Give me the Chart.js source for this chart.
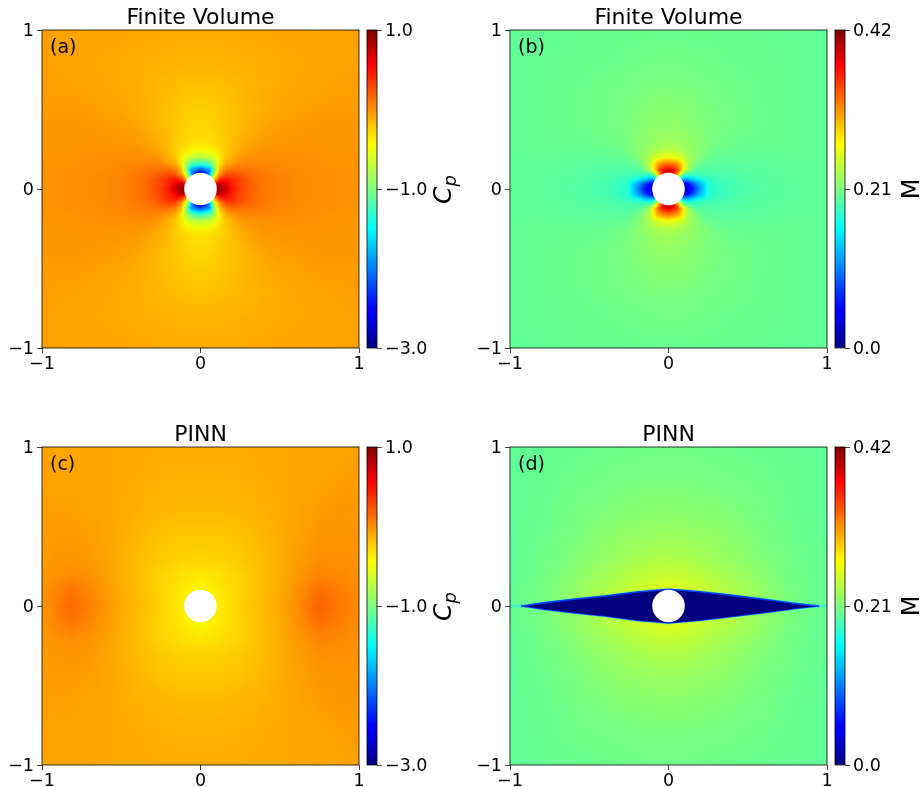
<!DOCTYPE html>
<html><head><meta charset="utf-8">
<style>html,body{margin:0;padding:0;background:#fff;overflow:hidden;width:920px;height:787px}
canvas{position:absolute;display:block}</style>
<script src="https://cdn.jsdelivr.net/npm/chart.js@4"></script>
</head><body>
<script>
const TITLE_FV='Finite Volume', TITLE_PINN='PINN';
const PANEL_TICKS=[-1,0,1];
const CP_TICKS=[-3,-1,1], CP_TICK_LABELS=['\u22123.0','\u22121.0','1.0'];
const M_TICKS=[0,0.21,0.42], M_TICK_LABELS=['0.0','0.21','0.42'];
const CYLINDER=[{x:0,y:0}];

// Quadrant read-offs for the finite volume fields (x>=0, y>=0)
const FV_X=[0,.03,.06,.09,.12,.16,.2,.25,.3,.4,.5,.65,.8,1];
const FV_Y=[0,.03,.06,.09,.12,.16,.2,.25,.3,.4,.5,.65,.8,1];
const FV_CP=[
[1,1,1,.98,.9,.72,.56,.38,.26,.13,.08,.05,.03,.02],
[-3,-1,.2,.65,.8,.65,.5,.35,.25,.13,.08,.05,.03,.02],
[-3,-2.2,-1,-.1,.45,.55,.47,.35,.24,.13,.08,.05,.03,.02],
[-3,-2.6,-1.75,-.5,0,.32,.34,.28,.2,.12,.08,.05,.03,.02],
[-2.2,-2,-1.9,-.9,-.15,.12,.18,.17,.15,.1,.07,.04,.03,.02],
[-1.35,-1.3,-1.15,-.75,-.35,-.1,0,.06,.08,.07,.06,.03,.02,.01],
[-.7,-.68,-.62,-.52,-.35,-.2,-.1,-.02,.02,.04,.04,.03,.02,.01],
[-.4,-.39,-.37,-.34,-.28,-.22,-.15,-.08,-.03,.01,.02,.02,.01,0],
[-.3,-.3,-.29,-.27,-.24,-.21,-.17,-.11,-.07,-.02,0,.01,.01,0],
[-.26,-.26,-.25,-.24,-.22,-.2,-.17,-.14,-.11,-.06,-.03,-.01,0,0],
[-.23,-.23,-.22,-.22,-.2,-.19,-.17,-.15,-.13,-.09,-.06,-.03,-.02,-.02],
[-.18,-.18,-.18,-.17,-.17,-.16,-.15,-.14,-.12,-.1,-.08,-.06,-.04,-.03],
[-.12,-.12,-.12,-.12,-.12,-.11,-.11,-.1,-.1,-.09,-.08,-.07,-.05,-.04],
[-.08,-.08,-.08,-.08,-.08,-.08,-.08,-.08,-.07,-.07,-.06,-.06,-.05,-.04]];
const FV_M=[
[0,0,0,.01,.03,.07,.118,.16,.172,.182,.188,.192,.195,.196],
[.39,.21,.1,.03,.05,.09,.125,.162,.173,.183,.188,.192,.195,.196],
[.39,.34,.21,.12,.12,.14,.155,.17,.177,.185,.19,.193,.195,.196],
[.4,.39,.3,.2,.175,.175,.18,.183,.185,.188,.19,.194,.196,.196],
[.385,.38,.35,.28,.235,.195,.19,.188,.188,.19,.192,.194,.196,.196],
[.33,.325,.31,.28,.24,.218,.2,.195,.193,.193,.194,.195,.196,.196],
[.27,.265,.26,.25,.235,.222,.212,.2,.197,.196,.196,.196,.197,.196],
[.238,.237,.234,.23,.225,.22,.214,.208,.203,.199,.198,.198,.198,.196],
[.228,.228,.226,.224,.221,.218,.215,.21,.206,.202,.2,.199,.198,.196],
[.22,.22,.22,.218,.217,.215,.213,.21,.208,.205,.203,.2,.198,.196],
[.216,.216,.216,.215,.214,.213,.211,.209,.207,.205,.203,.2,.198,.196],
[.21,.21,.21,.21,.209,.208,.207,.206,.205,.204,.202,.2,.198,.196],
[.205,.205,.205,.205,.204,.204,.203,.203,.202,.201,.2,.199,.198,.196],
[.2,.2,.2,.2,.2,.2,.2,.2,.2,.199,.199,.198,.197,.196]];

// PINN pressure: full width, upper half
const PINN_CP_X=[-1,-.9,-.82,-.7,-.55,-.4,-.25,-.12,0,.12,.25,.4,.55,.75,.9,1];
const PINN_CP_Y=[0,.1,.2,.3,.45,.6,.8,1];
const PINN_CP=[
[0,.12,.2,.1,-.04,-.14,-.24,-.36,-.44,-.36,-.24,-.14,-.03,.22,.12,.04],
[0,.08,.14,.07,-.05,-.15,-.25,-.35,-.42,-.35,-.25,-.15,-.04,.17,.1,.04],
[-.01,.03,.05,.02,-.06,-.16,-.25,-.31,-.34,-.31,-.25,-.16,-.05,.08,.06,.03],
[-.02,0,.01,-.01,-.07,-.15,-.21,-.24,-.25,-.24,-.21,-.15,-.06,.03,.03,.02],
[-.03,-.02,-.02,-.03,-.07,-.13,-.18,-.2,-.2,-.2,-.18,-.13,-.07,0,.01,.01],
[-.04,-.03,-.03,-.05,-.07,-.1,-.13,-.15,-.15,-.15,-.13,-.1,-.07,-.02,0,0],
[-.05,-.05,-.05,-.06,-.07,-.08,-.1,-.11,-.11,-.11,-.1,-.08,-.07,-.05,-.03,-.02],
[-.06,-.06,-.06,-.06,-.07,-.07,-.08,-.08,-.08,-.08,-.08,-.07,-.07,-.06,-.05,-.04]];

// PINN Mach: quadrant
const PINN_M_X=[0,.1,.2,.3,.45,.6,.8,1];
const PINN_M_Y=[0,.05,.1,.14,.2,.3,.45,.6,.8,1];
const PINN_M=[
[.26,.26,.255,.25,.235,.222,.206,.198],
[.26,.26,.255,.25,.235,.222,.206,.198],
[.262,.258,.25,.243,.232,.22,.206,.198],
[.258,.254,.247,.24,.23,.219,.205,.198],
[.248,.246,.241,.235,.226,.216,.204,.197],
[.236,.235,.231,.227,.22,.212,.203,.197],
[.225,.224,.222,.22,.215,.208,.202,.196],
[.217,.217,.215,.214,.21,.206,.2,.196],
[.209,.209,.208,.207,.205,.203,.199,.196],
[.204,.204,.203,.202,.201,.2,.198,.196]];

// The slow wake in panel (d)
const WAKE_X=[-1,-.93,-.9,-.8,-.6,-.4,-.2,0,.2,.4,.6,.8,.9,.95,1];
const WAKE_UP=[0,0,.003,.018,.042,.062,.088,.105,.09,.067,.042,.016,.004,0,0];
const WAKE_LO=[0,0,-.003,-.018,-.042,-.063,-.09,-.107,-.09,-.066,-.042,-.016,-.004,0,0];

const JET_STOPS=[[0,'#00007f'],[.11,'#0000ff'],[.125,'#0000ff'],[.375,'#00ffff'],[.5,'#7fff7f'],[.64,'#ffff00'],[.66,'#ffee00'],[.89,'#ff0000'],[.91,'#e80000'],[1,'#7f0000']];

function jet(t){t=Math.max(0,Math.min(1,t));
  const seg=(p)=>{for(let i=1;i<p.length;i++){if(t<=p[i][0]){const a=p[i-1],b=p[i];return a[1]+(b[1]-a[1])*(t-a[0])/(b[0]-a[0]);}}return p[p.length-1][1];};
  return [seg([[0,0],[.35,0],[.66,1],[.89,1],[1,.5]]),seg([[0,0],[.125,0],[.375,1],[.64,1],[.91,0],[1,0]]),seg([[0,.5],[.11,1],[.34,1],[.65,0],[1,0]])].map(c=>c*255);
}
function mirrorAxis(a){return a.slice(1).map(v=>-v).reverse().concat(a);}
function mirrorRow(r){return r.slice(1).reverse().concat(r);}
function cells(xs,ys,rows){const out=[];ys.forEach((y,j)=>xs.forEach((x,i)=>out.push({x,y,v:rows[j][i]})));return out;}
function fieldData(xs,ys,rows,mx){
  const X=mx?mirrorAxis(xs):xs, Y=mirrorAxis(ys);
  const R1=mx?rows.map(mirrorRow):rows;
  const R=R1.slice(1).reverse().concat(R1);
  return {X,Y,R,points:cells(X,Y,R)};
}
function locate(a,v){let i=0;while(i<a.length-2&&v>a[i+1])i++;const f=(v-a[i])/(a[i+1]-a[i]);return [i,Math.max(0,Math.min(1,f))];}

const fieldPlugin={id:'field',beforeDatasetsDraw(chart){
  const ds=chart.data.datasets.find(d=>d.grid); if(!ds)return;
  const {X,Y,R,vmin,vmax}=ds.grid, a=chart.chartArea;
  const L=Math.round(a.left),T=Math.round(a.top),W=Math.round(a.right-a.left),H=Math.round(a.bottom-a.top);
  const off=document.createElement('canvas');off.width=W;off.height=H;
  const c=off.getContext('2d'),img=c.createImageData(W,H);
  const cx=[];for(let i=0;i<W;i++)cx.push(locate(X,chart.scales.x.getValueForPixel(L+i+.5)));
  for(let j=0;j<H;j++){
    const [jj,fy]=locate(Y,chart.scales.y.getValueForPixel(T+j+.5));
    for(let i=0;i<W;i++){
      const [ii,fx]=cx[i];
      const v=(R[jj][ii]*(1-fx)+R[jj][ii+1]*fx)*(1-fy)+(R[jj+1][ii]*(1-fx)+R[jj+1][ii+1]*fx)*fy;
      const col=jet((v-vmin)/(vmax-vmin)),k=(j*W+i)*4;
      img.data[k]=col[0];img.data[k+1]=col[1];img.data[k+2]=col[2];img.data[k+3]=255;
    }
  }
  c.putImageData(img,0,0);chart.ctx.drawImage(off,L,T);
}};
const framePlugin={id:'frame',afterDatasetsDraw(chart){
  const a=chart.chartArea,c=chart.ctx;c.save();c.strokeStyle='rgba(0,0,0,.8)';c.lineWidth=1;
  c.strokeRect(a.left,a.top,a.right-a.left,a.bottom-a.top);c.restore();
},afterDraw(chart){
  const o=chart.options.plugins.note||{},a=chart.chartArea,c=chart.ctx;
  if(o.tag){c.save();c.fillStyle='#000';c.font='19px "DejaVu Sans"';c.textBaseline='alphabetic';c.fillText(o.tag,a.left+8,a.top+23);c.restore();}
  if(o.label){c.save();c.translate(a.right+o.dx,(a.top+a.bottom)/2);c.rotate(-Math.PI/2);c.fillStyle='#000';c.textBaseline='alphabetic';
    if(o.sub){c.font='italic 25px "DejaVu Sans"';const w=c.measureText(o.label).width;c.fillText(o.label,-15,0);c.font='italic 18px "DejaVu Sans"';c.fillText(o.sub,-15+w,5);}
    else{c.font='24px "DejaVu Sans"';c.textAlign='center';c.fillText(o.label,0,0);}
    c.restore();}
}};
const TICK_FONT={family:'"DejaVu Sans"',size:17.5};
function newCanvas(l,t,w,h){const c=document.createElement('canvas');c.width=w;c.height=h;c.style.left=l+'px';c.style.top=t+'px';document.body.appendChild(c);return c;}

function panel(left,top,title,tag,field,range,extra){
  const cv=newCanvas(left-42,top-30,42+317+7,370);
  field.vmin=range[0];field.vmax=range[1];
  new Chart(cv,{type:'scatter',plugins:[fieldPlugin,framePlugin],data:{datasets:[
    {label:'Cylinder',data:CYLINDER,pointRadius:16.3,pointBackgroundColor:'#fff',pointBorderWidth:0,order:0},
    ...extra,
    {label:'Field',data:field.points,grid:field,pointRadius:0,order:9}
  ]},options:{responsive:false,animation:false,devicePixelRatio:1,
    layout:{autoPadding:false,padding:{top:7,right:7,left:0,bottom:0}},
    plugins:{legend:{display:false},tooltip:{enabled:false},
      title:{display:true,text:title,fullSize:false,color:'#000',font:{family:'"DejaVu Sans"',size:22,weight:'normal',lineHeight:1},padding:{top:0,bottom:1}},
      note:{tag}},
    scales:{
      x:{type:'linear',min:-1,max:1,afterBuildTicks(s){s.ticks=PANEL_TICKS.map(value=>({value}));},afterFit(s){s.height=22;},
        border:{display:false},grid:{drawOnChartArea:false,drawTicks:true,tickLength:5,tickColor:'#444'},
        ticks:{color:'#000',font:TICK_FONT,padding:1,maxRotation:0,autoSkip:false,callback:v=>String(v).replace('-','\u2212')}},
      y:{type:'linear',min:-1,max:1,afterBuildTicks(s){s.ticks=PANEL_TICKS.map(value=>({value}));},afterFit(s){s.width=42;},
        border:{display:false},grid:{drawOnChartArea:false,drawTicks:true,tickLength:5,tickColor:'#444'},
        ticks:{color:'#000',font:TICK_FONT,padding:3,autoSkip:false,labelOffset:1.5,callback:v=>String(v).replace('-','\u2212')}}
    }}});
}
function colorbar(left,top,ticks,labels,note){
  const cv=newCanvas(left-7,top-30,100,370);
  new Chart(cv,{type:'bar',plugins:[framePlugin],data:{labels:['bar'],datasets:[{data:[[ticks[0],ticks[2]]],barPercentage:1,categoryPercentage:1,borderWidth:0,
    backgroundColor(ctx){const a=ctx.chart.chartArea;if(!a)return '#888';const g=ctx.chart.ctx.createLinearGradient(0,a.bottom,0,a.top);JET_STOPS.forEach(s=>g.addColorStop(s[0],s[1]));return g;}}]},
  options:{responsive:false,animation:false,devicePixelRatio:1,
    layout:{autoPadding:false,padding:{top:30,left:7,right:0,bottom:22}},
    plugins:{legend:{display:false},tooltip:{enabled:false},note},
    scales:{x:{display:false},
      y:{position:'right',min:ticks[0],max:ticks[2],afterBuildTicks(s){s.ticks=ticks.map(value=>({value}));},afterFit(s){s.width=83;},
        border:{display:false},grid:{drawOnChartArea:false,drawTicks:true,tickLength:5,tickColor:'#444'},
        ticks:{color:'#000',font:TICK_FONT,padding:3,autoSkip:false,labelOffset:1.5,callback:(v,i)=>labels[i]}}}}});
}
const wakeLine=(y,a,b)=>WAKE_X.map((x,i)=>({x,y:y[i]})).slice(a,b);
const wakeSets=[
  {type:'line',label:'Wake upper',data:wakeLine(WAKE_UP,1,14),pointRadius:0,borderColor:'#0040ff',borderWidth:1.6,backgroundColor:'#00007f',fill:'+1',tension:0,order:1},
  {type:'line',label:'Wake lower',data:wakeLine(WAKE_LO,1,14),pointRadius:0,borderColor:'#0040ff',borderWidth:1.6,tension:0,order:1},
  {type:'line',label:'Wake edge upper',data:wakeLine(WAKE_UP,0,15),pointRadius:0,borderColor:'rgba(0,220,255,.35)',borderWidth:3,tension:0,order:2},
  {type:'line',label:'Wake edge lower',data:wakeLine(WAKE_LO,1,14),pointRadius:0,borderColor:'rgba(0,220,255,.35)',borderWidth:3,tension:0,order:2}
];
panel(42,30,TITLE_FV,'(a)',fieldData(FV_X,FV_Y,FV_CP,true),[-3,1],[]);
panel(510,30,TITLE_FV,'(b)',fieldData(FV_X,FV_Y,FV_M,true),[0,.42],[]);
panel(42,447,TITLE_PINN,'(c)',fieldData(PINN_CP_X,PINN_CP_Y,PINN_CP,false),[-3,1],[]);
panel(510,447,TITLE_PINN,'(d)',fieldData(PINN_M_X,PINN_M_Y,PINN_M,true),[0,.42],wakeSets);
colorbar(367,30,CP_TICKS,CP_TICK_LABELS,{label:'C',sub:'p',dx:74});
colorbar(835,30,M_TICKS,M_TICK_LABELS,{label:'M',dx:74});
colorbar(367,447,CP_TICKS,CP_TICK_LABELS,{label:'C',sub:'p',dx:74});
colorbar(835,447,M_TICKS,M_TICK_LABELS,{label:'M',dx:74});
</script>
</body></html>
